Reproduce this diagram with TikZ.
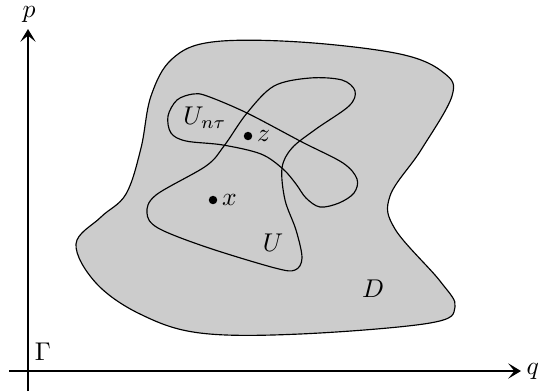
\documentclass[tikz,border=0pt]{standalone}
\usepackage{tikz}
\usetikzlibrary{arrows.meta}
\definecolor{dfill}{HTML}{CCCCCC}

\begin{document}
\begin{tikzpicture}[x=0.0137cm,y=-0.0137cm,
    axis/.style={line width=0.5pt,-{Stealth[length=5pt,width=6pt,inset=2.4pt]}},
    border/.style={line width=0.45pt},
    dot/.style={circle,fill,inner sep=0pt,minimum size=3.3pt}]
  \useasboundingbox (0,0) rectangle (539,391);

  % Axes
  \coordinate (qstart) at (9,371);
  \coordinate (qend) at (521,371);
  \coordinate (pstart) at (28,391);
  \coordinate (pend) at (28,29);
  \draw[axis] (qstart) -- (qend);
  \draw[axis] (pstart) -- (pend);
  \node[anchor=west,inner sep=2pt] (qlab) at (qend) {$q$};
  \node[inner sep=1pt] (plab) at (29,14) {$p$};
  \node (gam) at (43,352) {$\Gamma$};

  % Region D
  \draw[border,fill=dfill] plot[smooth cycle,tension=0.6] coordinates {
    (76,244) (101,217) (126,194) (141,148) (151,96) (172,59) (212,42)
    (300,42) (400,54) (444,73) (452,96) (421,150) (390,196) (395,229)
    (440,281) (455,307) (430,323) (300,334) (200,333) (140,314) (96,283)};
  \node (dlab) at (373,289) {$D$};

  % Set U
  \draw[border] plot[smooth cycle,tension=0.55] coordinates {
    (274,86) (310,78) (342,80) (355,91) (349,106) (316,129) (292,148)
    (282,168) (285,200) (296,230) (302,258) (295,270) (275,268)
    (206,247) (158,228) (147,213) (156,195) (206,166) (224,146) (247,113)};
  \node (ulab) at (273,243) {$U$};

  % Set U_{n tau}
  \draw[border] plot[smooth cycle,tension=0.55] coordinates {
    (168,116) (177,100) (193,94) (207,96) (247,113) (302,142)
    (343,163) (357,179) (354,193) (339,203) (320,207) (306,198)
    (296,184) (283,169) (261,154) (223,145) (186,141) (171,133)};
  \node (unlab) at (205,118) {$U_{n\tau}$};

  % Points
  \node[dot] (z) at (248,136) {};
  \node[anchor=west,inner sep=1.5pt] (zlab) at (z.east) {$z$};
  \node[dot] (x) at (213,200) {};
  \node[anchor=west,inner sep=1.5pt] (xlab) at (x.east) {$x$};
\end{tikzpicture}
\end{document}
